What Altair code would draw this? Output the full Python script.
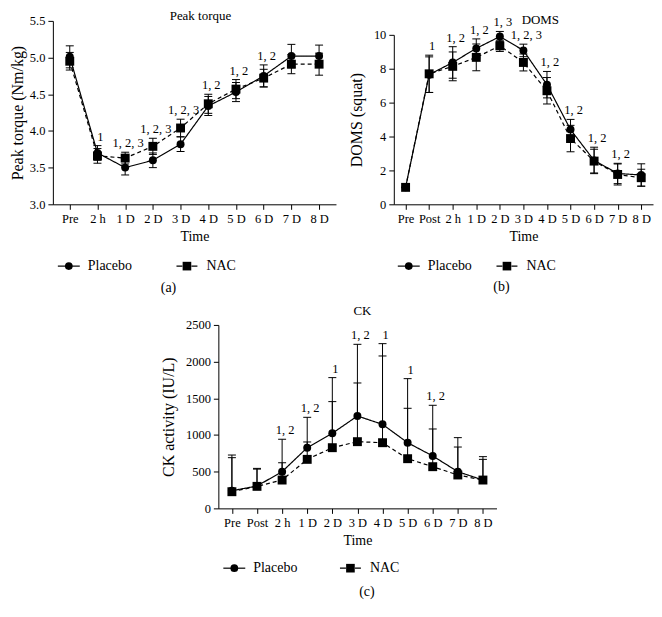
import altair as alt
import pandas as pd

FONT = "Liberation Serif"
GROUPS = ["Placebo", "NAC"]

# ---------------- Panel (a) Peak torque ----------------
times_a = ["Pre", "2 h", "1 D", "2 D", "3 D", "4 D", "5 D", "6 D", "7 D", "8 D"]
pt_placebo = [5.01, 3.70, 3.50, 3.60, 3.82, 4.34, 4.53, 4.75, 5.02, 5.02]
pt_placebo_sd = [0.15, 0.10, 0.10, 0.10, 0.10, 0.13, 0.13, 0.15, 0.16, 0.15]
pt_nac = [4.95, 3.66, 3.63, 3.79, 4.04, 4.37, 4.57, 4.72, 4.91, 4.91]
pt_nac_sd = [0.12, 0.10, 0.08, 0.11, 0.12, 0.13, 0.13, 0.12, 0.13, 0.15]
pt_sig_times = ["2 h", "1 D", "2 D", "3 D", "4 D", "5 D", "6 D"]
pt_sig_labels = ["1", "1, 2, 3", "1, 2, 3", "1, 2, 3", "1, 2", "1, 2", "1, 2"]
pt_ticks = [3.0, 3.5, 4.0, 4.5, 5.0, 5.5]

# ---------------- Panel (b) DOMS ----------------
times_b = ["Pre", "Post", "2 h", "1 D", "2 D", "3 D", "4 D", "5 D", "6 D", "7 D", "8 D"]
doms_placebo = [1.0, 7.65, 8.37, 9.20, 9.90, 9.08, 7.06, 4.41, 2.59, 1.82, 1.73]
doms_placebo_sd = [0.0, 1.05, 0.93, 0.56, 0.30, 0.37, 0.78, 0.60, 0.78, 0.60, 0.66]
doms_nac = [1.0, 7.70, 8.14, 8.67, 9.35, 8.37, 6.70, 3.88, 2.55, 1.76, 1.57]
doms_nac_sd = [0.0, 1.10, 0.85, 0.79, 0.33, 0.50, 0.78, 0.78, 0.70, 0.62, 0.50]
doms_sig_times = ["Post", "2 h", "1 D", "2 D", "3 D", "4 D", "5 D", "6 D", "7 D"]
doms_sig_labels = ["1", "1, 2", "1, 2", "1, 3", "1, 2, 3", "1, 2", "1, 2", "1, 2", "1, 2"]
doms_ticks = [0, 2, 4, 6, 8, 10]

# ---------------- Panel (c) CK ----------------
times_c = times_b
ck_placebo = [240, 305, 500, 827, 1023, 1259, 1145, 895, 714, 500, 386]
ck_placebo_sd = [487, 240, 441, 414, 759, 977, 1100, 873, 691, 464, 319]
ck_nac = [227, 300, 386, 668, 827, 909, 895, 677, 568, 455, 386]
ck_nac_sd = [464, 235, 237, 237, 628, 800, 1182, 687, 514, 381, 282]
ck_sig_times = ["2 h", "1 D", "2 D", "3 D", "4 D", "5 D", "6 D"]
ck_sig_labels = ["1, 2", "1, 2", "1", "1, 2", "1", "1", "1, 2"]
ck_ticks = [0, 500, 1000, 1500, 2000, 2500]

letters = ["(a)", "(b)", "(c)"]


def make_df(times, pl, pl_sd, nac, nac_sd, both):
    rows = []
    for g, m, s in ((GROUPS[0], pl, pl_sd), (GROUPS[1], nac, nac_sd)):
        for t, mv, sv in zip(times, m, s):
            rows.append({"time": t, "group": g, "mean": mv,
                         "lo": mv - sv if both else mv, "hi": mv + sv})
    return pd.DataFrame(rows)


def panel(times, pl, pl_sd, nac, nac_sd, sig_t, sig_l, title, title_dx,
          ytitle, domain, ticks, fmt, width, height, pad, letter,
          leg, both=True, yrange=None, sig_dx=3, ytp=6):
    df = make_df(times, pl, pl_sd, nac, nac_sd, both)
    top = df.groupby("time")["hi"].max()
    sig = pd.DataFrame({"time": sig_t, "label": sig_l})
    sig["ypos"] = [top[t] for t in sig_t]

    xenc = alt.X("time:N", sort=times,
                 scale=alt.Scale(type="point", padding=pad),
                 axis=alt.Axis(title="Time", labelAngle=0, labelOverlap=False,
                               titleFont=FONT, titleFontSize=14,
                               titleFontWeight="normal", titleColor="black",
                               labelFont=FONT, labelFontSize=12.5,
                               labelColor="black", domainColor="black",
                               tickColor="black", tickSize=5, labelPadding=3,
                               titlePadding=5, grid=False))
    sc = dict(domain=domain, nice=False, zero=False)
    if yrange is not None:
        sc["range"] = yrange
    yscale = alt.Scale(**sc)
    yaxis = alt.Axis(title=ytitle, values=ticks, format=fmt, grid=False,
                     titleFont=FONT, titleFontSize=16,
                     titleFontWeight="normal", titleColor="black",
                     labelFont=FONT, labelFontSize=12.5, labelColor="black",
                     domainColor="black", tickColor="black", tickSize=5,
                     labelPadding=3, titlePadding=ytp)

    def Y(f):
        return alt.Y(f, scale=yscale, axis=yaxis)

    base = alt.Chart(df)
    rules = base.mark_rule(color="black", strokeWidth=1).encode(
        x=xenc, y=Y("lo:Q"), y2="hi:Q")
    cap_hi = base.mark_tick(orient="horizontal", color="black", size=8,
                            thickness=1, opacity=1).encode(x=xenc, y=Y("hi:Q"))
    layers = [rules, cap_hi]
    if both:
        cap_lo = base.mark_tick(orient="horizontal", color="black", size=8,
                                thickness=1, opacity=1).encode(x=xenc, y=Y("lo:Q"))
        layers.append(cap_lo)
    lines = base.mark_line(color="black", strokeWidth=1.2).encode(
        x=xenc, y=Y("mean:Q"),
        strokeDash=alt.StrokeDash("group:N",
                                  scale=alt.Scale(domain=GROUPS, range=[[1, 0], [4, 3]]),
                                  legend=None),
        detail="group:N")
    pts = base.mark_point(filled=True, color="black", opacity=1).encode(
        x=xenc, y=Y("mean:Q"),
        shape=alt.Shape("group:N", scale=alt.Scale(domain=GROUPS, range=["circle", "square"]),
                        legend=None),
        size=alt.Size("group:N", scale=alt.Scale(domain=GROUPS, range=[64, 80]),
                      legend=None))
    ann = alt.Chart(sig).mark_text(font=FONT, fontSize=12.5, color="black",
                                   fill="black", baseline="middle", dy=-9,
                                   dx=sig_dx).encode(
        x=xenc, y=Y("ypos:Q"), text="label:N")
    layers += [lines, pts, ann]

    # custom legend and panel letter
    ly, lx = leg["y"], leg["x"]
    one = pd.DataFrame({"t": [GROUPS[0]]})
    two = pd.DataFrame({"t": [GROUPS[1]]})
    lab = pd.DataFrame({"t": [letter]})
    layers += [
        alt.Chart(one).mark_rule(color="black", strokeWidth=1.2).encode(
            x=alt.value(lx[0]), x2=alt.value(lx[0] + 22), y=alt.value(ly)),
        alt.Chart(one).mark_point(filled=True, shape="circle", size=60,
                                  color="black", opacity=1).encode(
            x=alt.value(lx[0] + 11), y=alt.value(ly)),
        alt.Chart(one).mark_text(font=FONT, fontSize=14, align="left",
                                 baseline="middle", color="black").encode(
            x=alt.value(lx[0] + 30), y=alt.value(ly), text="t:N"),
        alt.Chart(two).mark_rule(color="black", strokeWidth=1.2,
                                 strokeDash=[6, 9]).encode(
            x=alt.value(lx[1]), x2=alt.value(lx[1] + 21), y=alt.value(ly)),
        alt.Chart(two).mark_point(filled=True, shape="square", size=75,
                                  color="black", opacity=1).encode(
            x=alt.value(lx[1] + 10.5), y=alt.value(ly)),
        alt.Chart(two).mark_text(font=FONT, fontSize=14, align="left",
                                 baseline="middle", color="black").encode(
            x=alt.value(lx[1] + 30), y=alt.value(ly), text="t:N"),
        alt.Chart(lab).mark_text(font=FONT, fontSize=14, align="center",
                                 baseline="middle", color="black").encode(
            x=alt.value(leg["lx"]), y=alt.value(leg["ly"]), text="t:N"),
    ]

    return alt.layer(*layers).properties(
        width=width, height=height,
        title=alt.TitleParams(title, font=FONT, fontSize=13, fontWeight="normal",
                              color="black", anchor="middle", frame="group",
                              offset=leg["toff"], dx=title_dx))


pa = panel(times_a, pt_placebo, pt_placebo_sd, pt_nac, pt_nac_sd,
           pt_sig_times, pt_sig_labels, "Peak torque", 6,
           "Peak torque (Nm/kg)", [3.0, 5.5], pt_ticks, ".1f",
           284, 184, 0.61, letters[0],
           {"y": 246, "x": [5, 124], "lx": 116, "ly": 268, "toff": -8}, ytp=4)

pb = panel(times_b, doms_placebo, doms_placebo_sd, doms_nac, doms_nac_sd,
           doms_sig_times, doms_sig_labels, "DOMS", 17,
           "DOMS (squat)", [0, 10], doms_ticks, "d",
           260, 184, 0.5, letters[1],
           {"y": 246, "x": [4, 103], "lx": 108, "ly": 267, "toff": -11},
           yrange=[184, 14], ytp=9)

pc = panel(times_c, ck_placebo, ck_placebo_sd, ck_nac, ck_nac_sd,
           ck_sig_times, ck_sig_labels, "CK", 5,
           "CK activity (IU/L)", [0, 2500], ck_ticks, "d",
           279, 184, 0.54, letters[2],
           {"y": 244, "x": [5, 122], "lx": 149, "ly": 268, "toff": 1},
           both=False, ytp=9)

spacer = alt.Chart(pd.DataFrame({"v": [0]})).mark_point(opacity=0, size=1).encode(
    x=alt.value(0), y=alt.value(0)).properties(width=146, height=10)

top_row = alt.hconcat(pa, pb, spacing=58, bounds="flush")
bottom_row = alt.hconcat(spacer, pc, spacing=20, bounds="flush")

chart = alt.vconcat(top_row, bottom_row, spacing=8).properties(
    padding={"left": 0, "top": 0, "right": 0, "bottom": 0}
).configure(background="white", view=alt.ViewConfig(stroke="transparent"))

chart.save("out.html", embed_options={"renderer": "svg", "actions": False})
